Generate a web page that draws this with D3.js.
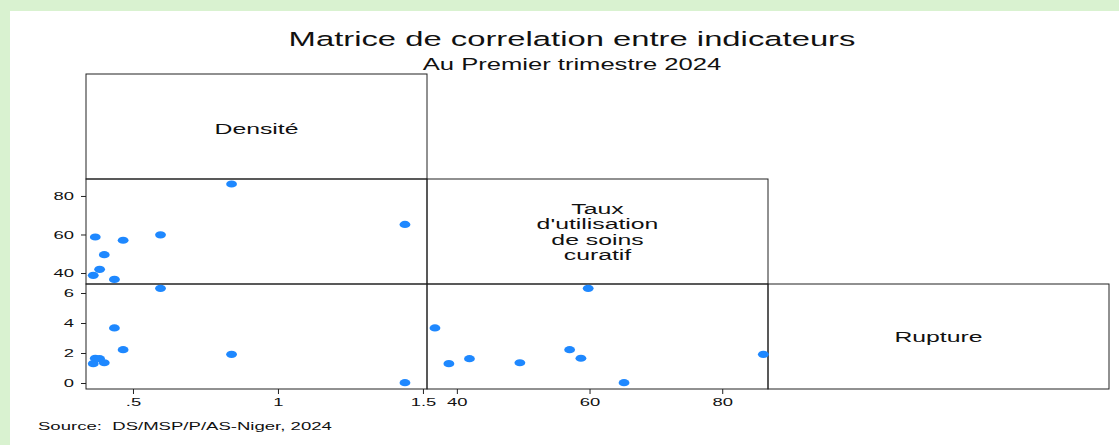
<!DOCTYPE html>
<html>
<head>
<meta charset="utf-8">
<script src="https://cdn.jsdelivr.net/npm/d3@7"></script>
<style>
  body { margin: 0; background: #d9f2d0; }
  text { font-family: "Liberation Sans", Arial, Helvetica, sans-serif; fill: #111; white-space: pre; }
</style>
</head>
<body>
<div id="chart"></div>
<script>
//indicator names (diagonal of the matrix)
var indicators = ["Densité", ["Taux", "d'utilisation", "de soins", "curatif"], "Rupture"];

//one value per district, same order in each array
var densite = [0.363, 0.370, 0.385, 0.401, 0.436, 0.466, 0.595, 0.840, 1.438];
var taux = [38.8, 58.7, 41.9, 49.5, 36.7, 57.0, 59.8, 86.2, 65.2];
var rupture = [1.29, 1.65, 1.62, 1.35, 3.67, 2.22, 6.31, 1.91, 0.02];

//tick labels
var densTicks = [0.5, 1, 1.5];
var tauxTicks = [40, 60, 80];
var rupTicks = [0, 2, 4, 6];

var W = 1119, H = 445;
var SX = 1.6; // the original picture is stretched sideways

//cell grid
var bb = { left: 86, top: 74, cw: 341, ch: 105 };

var svg = d3.select("#chart").append("svg")
	.attr("width", W)
	.attr("height", H);

svg.append("rect").attr("width", W).attr("height", H).attr("fill", "#d9f2d0");
svg.append("rect").attr("x", 10).attr("y", 11).attr("width", W - 10).attr("height", H - 11).attr("fill", "#fff");

function stext(g, x, y, str, size, anchor) {
	return g.append("text")
		.attr("transform", "translate(" + x + "," + y + ") scale(" + SX + ",1)")
		.attr("text-anchor", anchor || "middle")
		.style("font-size", size + "px")
		.text(str);
}

//titles
stext(svg, 572, 46, "Matrice de correlation entre indicateurs", 20.5);
stext(svg, 572, 70, "Au Premier trimestre 2024", 16);
stext(svg, 38, 430, "Source:  DS/MSP/P/AS-Niger, 2024", 11.6, "start");

//scales, one per indicator: columns use x, rows use y
var colX = function(i) { return bb.left + i * bb.cw; };
var rowY = function(i) { return bb.top + i * bb.ch; };

var xDens = d3.scaleLinear().domain([0.338, 1.514]).range([colX(0), colX(1)]);
var xTaux = d3.scaleLinear().domain([35.5, 86.9]).range([colX(1), colX(2)]);
var yTaux = d3.scaleLinear().domain([34.3, 88.8]).range([rowY(2), rowY(1)]);
var yRup = d3.scaleLinear().domain([-0.4, 6.6]).range([rowY(3), rowY(2)]);

var fmt = function(d) { return String(d).replace(/^0\./, "."); };

//cells
var cells = [[0, 0], [0, 1], [1, 1], [0, 2], [1, 2], [2, 2]];
svg.selectAll("rect.cell").data(cells).enter().append("rect")
	.attr("class", "cell")
	.attr("x", function(d) { return colX(d[0]); })
	.attr("y", function(d) { return rowY(d[1]); })
	.attr("width", bb.cw)
	.attr("height", bb.ch)
	.attr("fill", "none")
	.attr("stroke", "#222")
	.attr("stroke-width", 1);

//diagonal labels
stext(svg, colX(0) + bb.cw / 2, 134, indicators[0], 15.5);
indicators[1].forEach(function(s, i) {
	stext(svg, colX(1) + bb.cw / 2, 214 + i * 15.4, s, 15.5);
});
stext(svg, colX(2) + bb.cw / 2, 342, indicators[2], 15.5);

//axes
function styleAxis(g, isLeft) {
	g.select(".domain").remove();
	g.selectAll(".tick line").attr("stroke", "#222");
	g.selectAll(".tick text")
		.style("font-size", "11.5px")
		.style("font-family", '"Liberation Sans", Arial, sans-serif')
		.attr("fill", "#111");
	g.selectAll(".tick text").each(function() {
		var t = d3.select(this);
		if (isLeft) {
			t.attr("x", -12 / SX).attr("transform", "scale(" + SX + ",1)");
		}
	});
}

var gy2 = svg.append("g").attr("transform", "translate(" + bb.left + ",0)")
	.call(d3.axisLeft(yTaux).tickValues(tauxTicks).tickSize(5).tickFormat(fmt));
styleAxis(gy2, true);
var gy3 = svg.append("g").attr("transform", "translate(" + bb.left + ",0)")
	.call(d3.axisLeft(yRup).tickValues(rupTicks).tickSize(5).tickFormat(fmt));
styleAxis(gy3, true);

var gx1 = svg.append("g").attr("transform", "translate(0," + rowY(3) + ")")
	.call(d3.axisBottom(xDens).tickValues(densTicks).tickSize(5).tickPadding(4).tickFormat(fmt));
styleAxis(gx1, false);
var gx2 = svg.append("g").attr("transform", "translate(0," + rowY(3) + ")")
	.call(d3.axisBottom(xTaux).tickValues(tauxTicks).tickSize(5).tickPadding(4).tickFormat(fmt));
styleAxis(gx2, false);
svg.selectAll("g.tick text").filter(function() { return !this.getAttribute("transform"); })
	.attr("transform", "scale(" + SX + ",1)")
	.attr("x", 0);

//scatter panels
var rows = densite.map(function(d, i) { return { dens: d, taux: taux[i], rup: rupture[i] }; });
var panels = [
	{ x: xDens, y: yTaux, fx: "dens", fy: "taux" },
	{ x: xDens, y: yRup, fx: "dens", fy: "rup" },
	{ x: xTaux, y: yRup, fx: "taux", fy: "rup" }
];
panels.forEach(function(p) {
	svg.append("g").selectAll("ellipse").data(rows).enter().append("ellipse")
		.attr("cx", function(d) { return p.x(d[p.fx]); })
		.attr("cy", function(d) { return p.y(d[p.fy]); })
		.attr("rx", 5.4)
		.attr("ry", 3.6)
		.attr("fill", "#1e88ff");
});
</script>
</body>
</html>
